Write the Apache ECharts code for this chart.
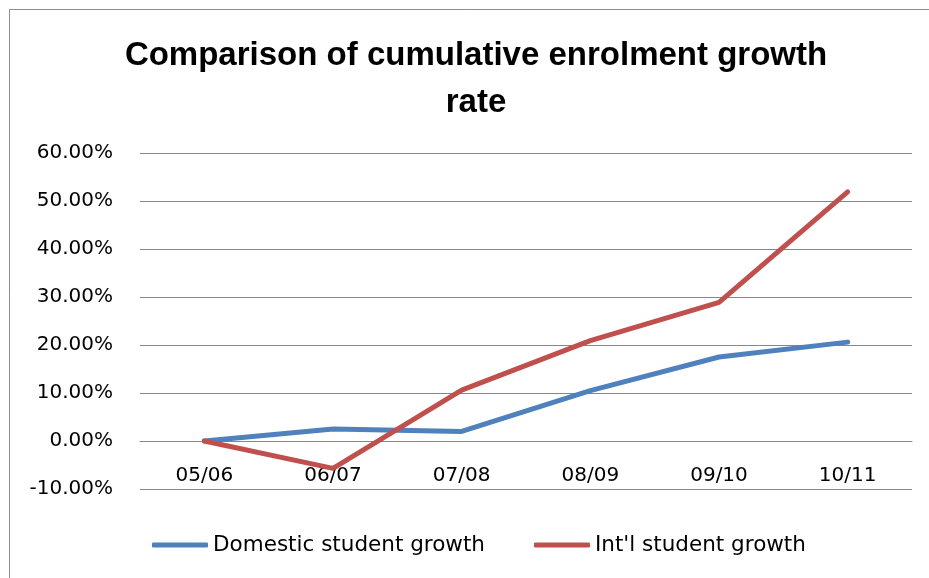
<!DOCTYPE html>
<html>
<head>
<meta charset="utf-8">
<script src="https://cdn.jsdelivr.net/npm/echarts@6/dist/echarts.min.js"></script>
<style>
  html, body { margin: 0; padding: 0; background: #fff; }
  #chart { width: 929px; height: 578px; }
</style>
</head>
<body>
<div id="chart"></div>
<script>
  // values, in percent
  var years = ['05/06', '06/07', '07/08', '08/09', '09/10', '10/11'];
  var domestic = [0, 2.5, 2.0, 10.5, 17.5, 20.6];
  var intl = [0, -5.7, 10.6, 20.9, 28.9, 51.9];
  var seriesNames = ['Domestic student growth', "Int'l student growth"];

  var font = 'DejaVu Sans';
  var myChart = echarts.init(document.getElementById('chart'));

  var option = {
    animation: false,
    backgroundColor: '#fff',
    title: {
      text: 'Comparison of cumulative enrolment growth\nrate',
      left: 471,
      textAlign: 'center',
      top: 27,
      textStyle: {
        fontFamily: 'Liberation Sans',
        fontWeight: 'bold',
        fontSize: 33,
        lineHeight: 47,
        color: '#000'
      }
    },
    graphic: [{
      type: 'rect',
      shape: { x: 9.5, y: 9.5, width: 1000, height: 1000 },
      style: { fill: 'none', stroke: '#8c8c8c', lineWidth: 1 },
      silent: true
    }],
    legend: {
      left: 147,
      top: 529,
      itemWidth: 56,
      itemHeight: 5,
      itemGap: 49,
      icon: 'roundRect',
      textStyle: { fontFamily: font, fontSize: 21.5, color: '#000' },
      data: seriesNames
    },
    grid: { left: 140, right: 17, top: 153, bottom: 89, containLabel: false },
    xAxis: {
      type: 'category',
      data: years,
      boundaryGap: true,
      // category axis sits on the 0% line, labels just under it
      offset: -48,
      axisLine: { onZero: false, lineStyle: { color: '#868686', width: 1 } },
      axisTick: { show: false },
      axisLabel: { fontFamily: font, fontSize: 20, color: '#000', margin: 25 }
    },
    yAxis: {
      type: 'value',
      min: -10,
      max: 60,
      interval: 10,
      axisLine: { show: false },
      axisTick: { show: false },
      splitLine: { lineStyle: { color: '#868686', width: 1 } },
      axisLabel: {
        fontFamily: font,
        fontSize: 20,
        color: '#000',
        margin: 27,
        formatter: function (v) { return v.toFixed(2) + '%'; }
      }
    },
    series: [{
      name: seriesNames[0],
      type: 'line',
      data: domestic,
      symbol: 'none',
      lineStyle: { color: '#4F81BD', width: 5, cap: 'round', join: 'round' },
      itemStyle: { color: '#4F81BD' }
    }, {
      name: seriesNames[1],
      type: 'line',
      data: intl,
      symbol: 'none',
      lineStyle: { color: '#C0504D', width: 5, cap: 'round', join: 'round' },
      itemStyle: { color: '#C0504D' }
    }]
  };

  myChart.setOption(option);
</script>
</body>
</html>
